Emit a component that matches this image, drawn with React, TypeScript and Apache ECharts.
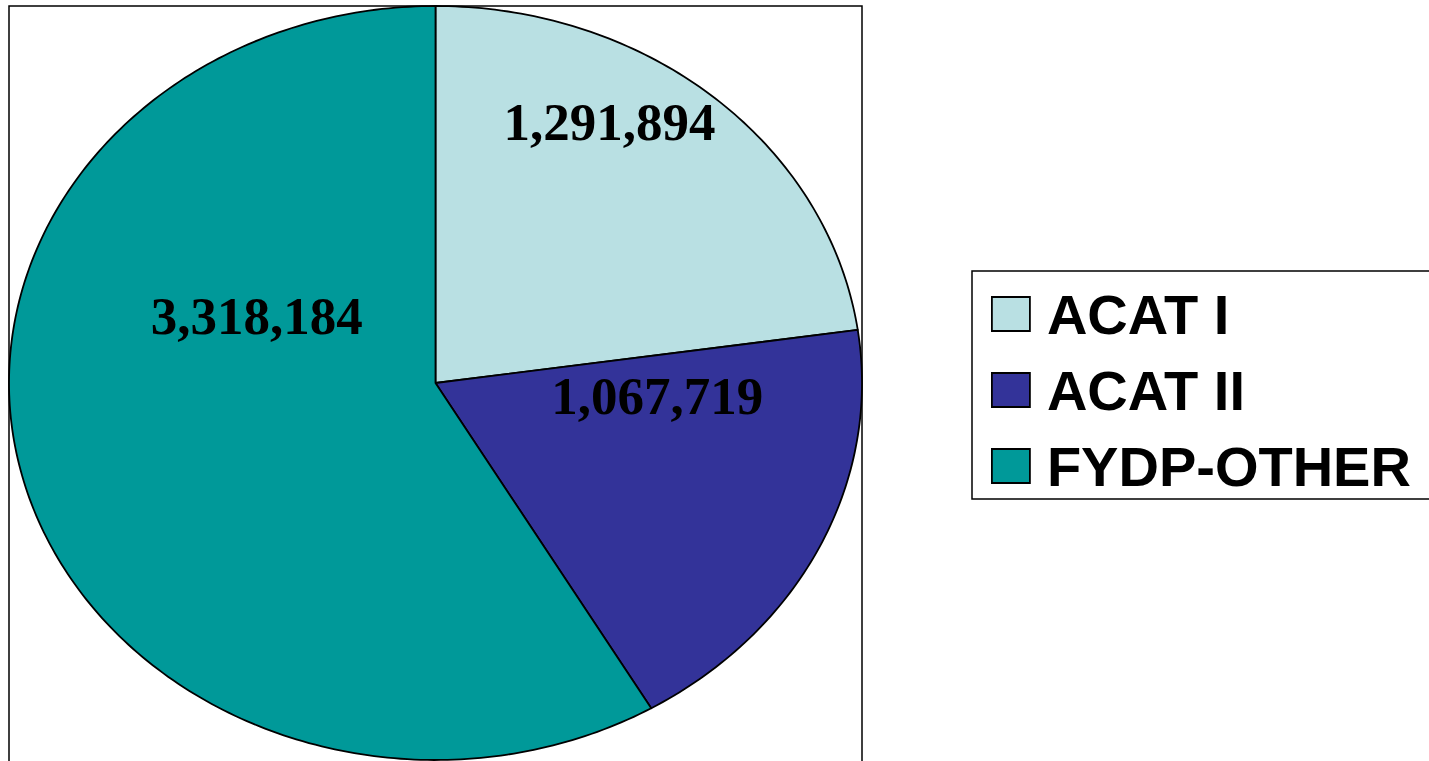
import React, { useEffect, useRef } from "react";
import * as echarts from "echarts";

const categories = ["ACAT I", "ACAT II", "FYDP-OTHER"];
const values = [1291894, 1067719, 3318184];
const colors = ["#B9E0E3", "#333399", "#009999"];
// label anchor, as fractions of the ellipse radii from its centre
const labelAnchors = [
  [0.408, -0.692],
  [0.52, 0.034],
  [-0.419, -0.178],
];

const CX = 435.5;
const CY = 383;
const RX = 426.5;
const RY = 377;

export default function App() {
  const ref = useRef<HTMLDivElement>(null);
  useEffect(() => {
    if (!ref.current) return;
    const chart = echarts.init(ref.current, undefined, { renderer: "svg" });
    const total = values.reduce((a, b) => a + b, 0);
    const cum: number[] = [];
    let acc = 0;
    values.forEach((v) => {
      cum.push(acc);
      acc += v;
    });

    const series = categories.map((name, i) => ({
      type: "custom",
      name,
      coordinateSystem: "none",
      itemStyle: { color: colors[i] },
      data: [[values[i]]],
      renderItem: (params: any, api: any) => {
        const v = api.value(0) as number;
        const a0 = (cum[i] / total) * Math.PI * 2;
        const a1 = a0 + (v / total) * Math.PI * 2;
        const n = Math.max(8, Math.ceil(((a1 - a0) / (Math.PI * 2)) * 400));
        const pts: number[][] = [[CX, CY]];
        for (let k = 0; k <= n; k++) {
          const a = a0 + ((a1 - a0) * k) / n;
          pts.push([CX + RX * Math.sin(a), CY - RY * Math.cos(a)]);
        }
        return {
          type: "group",
          children: [
            {
              type: "polygon",
              shape: { points: pts },
              style: { fill: colors[i], stroke: "#000", lineWidth: 1.8, lineJoin: "round" },
            },
            {
              type: "text",
              x: CX + labelAnchors[i][0] * RX,
              y: CY + labelAnchors[i][1] * RY,
              style: {
                text: v.toLocaleString("en-US"),
                font: 'bold 53px "Liberation Serif", "Times New Roman", serif',
                fill: "#000",
                align: "center",
                verticalAlign: "middle",
              },
            },
          ],
        };
      },
    }));

    chart.setOption({
      animation: false,
      backgroundColor: "#fff",
      graphic: [
        {
          type: "rect",
          z: -1,
          shape: { x: 9, y: 6, width: 853, height: 800 },
          style: { fill: "#fff", stroke: "#000", lineWidth: 1.5 },
        },
        {
          type: "rect",
          z: -1,
          shape: { x: 972, y: 271, width: 500, height: 228 },
          style: { fill: "#fff", stroke: "#000", lineWidth: 1.5 },
        },
      ],
      legend: {
        orient: "vertical",
        left: 991,
        top: 284,
        itemWidth: 38,
        itemHeight: 34,
        itemGap: 16,
        padding: 0,
        icon: "rect",
        data: categories.map((name, i) => ({
          name,
          itemStyle: { color: colors[i], borderColor: "#000", borderWidth: 1.8 },
        })),
        textStyle: {
          fontFamily: '"Liberation Sans", Arial, sans-serif',
          fontWeight: "bold",
          fontSize: 56,
          lineHeight: 60,
          color: "#000",
          padding: [0, 0, 0, 12],
        },
        selectedMode: false,
      },
      series,
    });
    return () => chart.dispose();
  }, []);
  return (
    <div
      ref={ref}
      style={{ position: "fixed", left: 0, top: 0, width: 1429, height: 761 }}
    />
  );
}
